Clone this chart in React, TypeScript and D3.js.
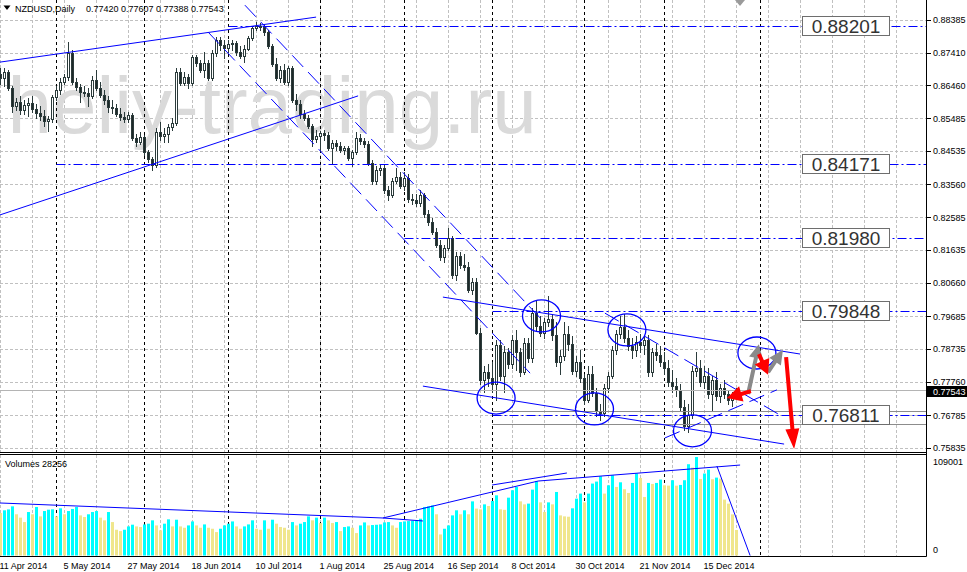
import React from "react";
import * as d3 from "d3";

// ---- NZDUSD daily, 11 Apr 2014 .. late Dec 2014 (one entry per trading day) ----
const openPrices = [
  0.8680, 0.8668, 0.8686, 0.8639, 0.8586, 0.8598, 0.8575, 0.8589, 0.8595, 0.8578,
  0.8566, 0.8557, 0.8542, 0.8548, 0.8613, 0.8633, 0.8657, 0.8671, 0.8742, 0.8657,
  0.8642, 0.8627, 0.8625, 0.8616, 0.8663, 0.8639, 0.8619, 0.8604, 0.8583, 0.8580,
  0.8563, 0.8554, 0.8548, 0.8560, 0.8493, 0.8481, 0.8496, 0.8451, 0.8431, 0.8413,
  0.8510, 0.8498, 0.8504, 0.8525, 0.8537, 0.8686, 0.8654, 0.8671, 0.8654, 0.8730,
  0.8712, 0.8692, 0.8712, 0.8668, 0.8742, 0.8780, 0.8765, 0.8756, 0.8768, 0.8771,
  0.8745, 0.8733, 0.8754, 0.8786, 0.8815, 0.8821, 0.8818, 0.8803, 0.8762, 0.8709,
  0.8668, 0.8692, 0.8657, 0.8698, 0.8604, 0.8592, 0.8563, 0.8551, 0.8528, 0.8490,
  0.8498, 0.8507, 0.8501, 0.8463, 0.8478, 0.8469, 0.8457, 0.8463, 0.8434, 0.8451,
  0.8493, 0.8484, 0.8475, 0.8419, 0.8366, 0.8399, 0.8405, 0.8340, 0.8325, 0.8366,
  0.8378, 0.8352, 0.8375, 0.8314, 0.8311, 0.8302, 0.8325, 0.8270, 0.8246, 0.8217,
  0.8179, 0.8144, 0.8170, 0.8199, 0.8091, 0.8146, 0.8120, 0.8114, 0.8047, 0.8070,
  0.7921, 0.7783, 0.7806, 0.7789, 0.7771, 0.7886, 0.7795, 0.7865, 0.7830, 0.7900,
  0.7865, 0.7806, 0.7891, 0.7847, 0.7979, 0.7941, 0.7921, 0.7953, 0.7962, 0.7915,
  0.7836, 0.7853, 0.7918, 0.7888, 0.7809, 0.7836, 0.7789, 0.7724, 0.7801, 0.7745,
  0.7692, 0.7686, 0.7760, 0.7795, 0.7871, 0.7918, 0.7938, 0.7906, 0.7883, 0.7871,
  0.7894, 0.7886, 0.7900, 0.7806, 0.7865, 0.7856, 0.7836, 0.7818, 0.7777, 0.7765,
  0.7754, 0.7704, 0.7648, 0.7680, 0.7809, 0.7818, 0.7777, 0.7795, 0.7742, 0.7783,
  0.7736, 0.7760, 0.7742, 0.7724, 0.77420,
];
const highPrices = [
  0.8698, 0.8698, 0.8692, 0.8645, 0.8610, 0.8616, 0.8604, 0.8610, 0.8616, 0.8592,
  0.8586, 0.8575, 0.8557, 0.8619, 0.8645, 0.8668, 0.8680, 0.8774, 0.8751, 0.8668,
  0.8651, 0.8645, 0.8639, 0.8674, 0.8692, 0.8657, 0.8633, 0.8616, 0.8604, 0.8592,
  0.8580, 0.8569, 0.8569, 0.8566, 0.8504, 0.8510, 0.8501, 0.8457, 0.8437, 0.8522,
  0.8539, 0.8522, 0.8534, 0.8551, 0.8698, 0.8698, 0.8686, 0.8680, 0.8736, 0.8736,
  0.8721, 0.8745, 0.8721, 0.8751, 0.8789, 0.8789, 0.8780, 0.8780, 0.8780, 0.8777,
  0.8762, 0.8765, 0.8792, 0.8821, 0.8833, 0.8830, 0.8827, 0.8809, 0.8768, 0.8727,
  0.8704, 0.8709, 0.8704, 0.8704, 0.8622, 0.8604, 0.8575, 0.8560, 0.8534, 0.8516,
  0.8513, 0.8516, 0.8510, 0.8487, 0.8487, 0.8481, 0.8469, 0.8469, 0.8457, 0.8510,
  0.8504, 0.8493, 0.8484, 0.8428, 0.8410, 0.8416, 0.8413, 0.8352, 0.8375, 0.8405,
  0.8393, 0.8393, 0.8387, 0.8328, 0.8328, 0.8340, 0.8331, 0.8281, 0.8258, 0.8229,
  0.8193, 0.8179, 0.8229, 0.8205, 0.8158, 0.8158, 0.8152, 0.8129, 0.8082, 0.8082,
  0.7935, 0.7824, 0.7830, 0.7836, 0.7900, 0.7900, 0.7883, 0.7877, 0.7915, 0.7930,
  0.7877, 0.7906, 0.7906, 0.7994, 0.8018, 0.7971, 0.7965, 0.8029, 0.7976, 0.7953,
  0.7871, 0.7953, 0.7941, 0.7912, 0.7853, 0.7871, 0.7801, 0.7824, 0.7824, 0.7760,
  0.7713, 0.7771, 0.7806, 0.7883, 0.7930, 0.7971, 0.7976, 0.7930, 0.7906, 0.7912,
  0.7918, 0.7912, 0.7915, 0.7877, 0.7888, 0.7883, 0.7865, 0.7842, 0.7812, 0.7789,
  0.7771, 0.7724, 0.7713, 0.7824, 0.7865, 0.7842, 0.7824, 0.7818, 0.7795, 0.7806,
  0.7771, 0.7783, 0.7754, 0.7748, 0.77607,
];
const lowPrices = [
  0.8651, 0.8645, 0.8633, 0.8569, 0.8575, 0.8563, 0.8563, 0.8557, 0.8569, 0.8551,
  0.8545, 0.8528, 0.8513, 0.8539, 0.8604, 0.8622, 0.8651, 0.8663, 0.8651, 0.8633,
  0.8598, 0.8616, 0.8586, 0.8610, 0.8633, 0.8613, 0.8592, 0.8569, 0.8566, 0.8557,
  0.8545, 0.8539, 0.8539, 0.8487, 0.8469, 0.8475, 0.8443, 0.8422, 0.8399, 0.8407,
  0.8487, 0.8481, 0.8481, 0.8516, 0.8531, 0.8648, 0.8648, 0.8639, 0.8648, 0.8704,
  0.8686, 0.8671, 0.8663, 0.8663, 0.8733, 0.8751, 0.8727, 0.8745, 0.8751, 0.8736,
  0.8727, 0.8715, 0.8751, 0.8780, 0.8809, 0.8809, 0.8795, 0.8756, 0.8704, 0.8663,
  0.8657, 0.8651, 0.8648, 0.8598, 0.8575, 0.8551, 0.8545, 0.8522, 0.8469, 0.8481,
  0.8457, 0.8487, 0.8457, 0.8419, 0.8457, 0.8451, 0.8446, 0.8428, 0.8410, 0.8446,
  0.8475, 0.8466, 0.8413, 0.8358, 0.8358, 0.8384, 0.8331, 0.8311, 0.8319, 0.8361,
  0.8346, 0.8340, 0.8305, 0.8299, 0.8293, 0.8293, 0.8261, 0.8237, 0.8211, 0.8173,
  0.8135, 0.8129, 0.8164, 0.8082, 0.8076, 0.8111, 0.8106, 0.8041, 0.8035, 0.7918,
  0.7771, 0.7748, 0.7765, 0.7748, 0.7724, 0.7783, 0.7748, 0.7818, 0.7818, 0.7812,
  0.7795, 0.7801, 0.7836, 0.7836, 0.7930, 0.7912, 0.7906, 0.7941, 0.7900, 0.7824,
  0.7801, 0.7842, 0.7871, 0.7801, 0.7795, 0.7777, 0.7713, 0.7718, 0.7736, 0.7677,
  0.7666, 0.7677, 0.7748, 0.7789, 0.7859, 0.7906, 0.7894, 0.7871, 0.7847, 0.7853,
  0.7865, 0.7859, 0.7795, 0.7795, 0.7842, 0.7824, 0.7801, 0.7765, 0.7748, 0.7736,
  0.7695, 0.7636, 0.7631, 0.7672, 0.7795, 0.7765, 0.7760, 0.7730, 0.7695, 0.7724,
  0.7718, 0.7730, 0.7713, 0.7707, 0.77388,
];
const closePrices = [
  0.8668, 0.8686, 0.8639, 0.8586, 0.8598, 0.8575, 0.8589, 0.8595, 0.8578, 0.8566,
  0.8557, 0.8542, 0.8548, 0.8613, 0.8633, 0.8657, 0.8671, 0.8742, 0.8657, 0.8642,
  0.8627, 0.8625, 0.8616, 0.8663, 0.8639, 0.8619, 0.8604, 0.8583, 0.8580, 0.8563,
  0.8554, 0.8548, 0.8560, 0.8493, 0.8481, 0.8496, 0.8451, 0.8431, 0.8413, 0.8510,
  0.8498, 0.8504, 0.8525, 0.8537, 0.8686, 0.8654, 0.8671, 0.8654, 0.8730, 0.8712,
  0.8692, 0.8712, 0.8668, 0.8742, 0.8780, 0.8765, 0.8756, 0.8768, 0.8771, 0.8745,
  0.8733, 0.8754, 0.8786, 0.8815, 0.8821, 0.8818, 0.8803, 0.8762, 0.8709, 0.8668,
  0.8692, 0.8657, 0.8698, 0.8604, 0.8592, 0.8563, 0.8551, 0.8528, 0.8490, 0.8498,
  0.8507, 0.8501, 0.8463, 0.8478, 0.8469, 0.8457, 0.8463, 0.8434, 0.8451, 0.8493,
  0.8484, 0.8475, 0.8419, 0.8366, 0.8399, 0.8405, 0.8340, 0.8325, 0.8366, 0.8378,
  0.8352, 0.8375, 0.8314, 0.8311, 0.8302, 0.8325, 0.8270, 0.8246, 0.8217, 0.8179,
  0.8144, 0.8170, 0.8199, 0.8091, 0.8146, 0.8120, 0.8114, 0.8047, 0.8070, 0.7921,
  0.7783, 0.7806, 0.7789, 0.7771, 0.7886, 0.7795, 0.7865, 0.7830, 0.7900, 0.7865,
  0.7806, 0.7891, 0.7847, 0.7979, 0.7941, 0.7921, 0.7953, 0.7962, 0.7915, 0.7836,
  0.7853, 0.7918, 0.7888, 0.7809, 0.7836, 0.7789, 0.7724, 0.7801, 0.7745, 0.7692,
  0.7686, 0.7760, 0.7795, 0.7871, 0.7918, 0.7938, 0.7906, 0.7883, 0.7871, 0.7894,
  0.7886, 0.7900, 0.7806, 0.7865, 0.7856, 0.7836, 0.7818, 0.7777, 0.7765, 0.7754,
  0.7704, 0.7648, 0.7680, 0.7809, 0.7818, 0.7777, 0.7795, 0.7742, 0.7783, 0.7736,
  0.7760, 0.7742, 0.7724, 0.7742, 0.77543,
];
const volumes = [
  47000, 50000, 51000, 54400, 45600, 41900, 37000, 48100, 45600, 53700,
  43300, 49200, 50700, 51100, 43300, 52200, 45600, 49200, 51500, 53700,
  44400, 42600, 45600, 48100, 49200, 41900, 38900, 48100, 37000, 28500,
  27000, 28500, 32200, 34100, 32200, 31500, 34400, 35200, 38900, 33300,
  27800, 35200, 40000, 32200, 39600, 32200, 30700, 33300, 37700, 33300,
  30700, 34400, 30700, 29600, 25900, 29600, 33300, 35200, 37700, 32200,
  29600, 32200, 34400, 38900, 29600, 28500, 38900, 29600, 39600, 35200,
  31500, 30700, 28500, 37000, 33300, 35200, 37000, 43300, 38900, 41900,
  35900, 41900, 38900, 35900, 37000, 27000, 31500, 32200, 30700, 24800,
  33300, 36600, 33300, 33700, 34000, 34400, 36600, 37000, 33300, 30700,
  37000, 37700, 38100, 38500, 38900, 40700, 53700, 54400, 55500, 45600,
  23300, 29600, 33300, 44400, 50000, 45600, 50000, 45600, 59900, 51900,
  51000, 56600, 54800, 60300, 66600, 51100, 50500, 64000, 72200, 75900,
  59900, 56600, 57400, 72900, 82100, 58800, 48100, 58800, 56600, 70300,
  44400, 43300, 42900, 52200, 62900, 68500, 58800, 68500, 79600, 81800,
  87700, 68500, 77700, 88800, 75900, 81000, 73300, 69200, 80300, 90700,
  85800, 64800, 80300, 79200, 80300, 84000, 77700, 77300, 83300, 77300,
  78100, 83300, 101000, 97300, 109001, 84700, 90700, 95100, 84400, 86200,
  85100, 61800, 57400, 45500, 28256,
];

// ---- axes ----
const priceTicks = [0.88385, 0.8741, 0.8646, 0.85485, 0.84535, 0.8356, 0.82585, 0.81635, 0.8066, 0.79685, 0.78735, 0.7776, 0.76785, 0.75835];
const priceTickLabels = ["0.88385", "0.87410", "0.86460", "0.85485", "0.84535", "0.83560", "0.82585", "0.81635", "0.80660", "0.79685", "0.78735", "0.77760", "0.76785", "0.75835"];
const dateLabels = ["11 Apr 2014", "5 May 2014", "27 May 2014", "18 Jun 2014", "10 Jul 2014", "1 Aug 2014", "25 Aug 2014", "16 Sep 2014", "8 Oct 2014", "30 Oct 2014", "21 Nov 2014", "15 Dec 2014"];
const dateLabelIdx = [0, 16, 32, 48, 64, 80, 96, 112, 128, 144, 160, 176];
const monthSeparatorIdx = [14, 36, 57, 80, 101, 123, 146, 166, 190];
const volumeMax = 109001;

// ---- drawn objects (bar index, price) ----
const levelPrices = [0.88201, 0.84171, 0.8198, 0.79848, 0.76811];
const levelLabels = ["0.88201", "0.84171", "0.81980", "0.79848", "0.76811"];
const levelStartIdx = [57, 14, 101, 123, 123];
const grayLevelPrices = [0.7692, 0.7654];
const grayLevelStartIdx = [123, 123];
const solidTrendLines = [
  [-0.125, 0.8715, 78.9, 0.8847],
  [-0.125, 0.8267, 89.4, 0.8616],
  [110.6, 0.8026, 199.9, 0.7859],
  [105.6, 0.7765, 195.9, 0.7595],
];
const dashedTrendLines = [
  [61.1, 0.8882, 134.9, 0.7965],
  [51.9, 0.8803, 132.4, 0.7803],
  [151.1, 0.7979, 194.9, 0.768],
  [166.1, 0.7613, 194.1, 0.7754],
];
const ellipseCenters = [
  [135.25, 0.7971],
  [156.6, 0.793],
  [123.9, 0.773],
  [148.5, 0.7698],
  [173, 0.7634],
  [189.1, 0.7862],
];
const arrowsRed = [
  [187.6, 0.7750, 181.6, 0.773],
  [189.6, 0.7859, 191.9, 0.7798],
  [196.4, 0.785, 198.4, 0.7581],
];
const arrowsGray = [
  [186.9, 0.7742, 189.6, 0.7888],
  [191.9, 0.7806, 195.6, 0.7871],
];
const volumeTrendLines = [
  [-0.125, 58100, 95.6, 41500],
  [95.6, 41500, 134.4, 82400],
  [95.6, 41500, 105.6, 38200],
  [122.9, 78000, 141.6, 91300],
  [134.4, 82400, 184.9, 100100],
  [179.1, 99000, 187.4, 0],
];

const FONT = "'Liberation Sans', Arial, Helvetica, sans-serif";
const BLUE = "#0000ff";
const CANDLE = "#2b3b3b";
const BEAR_FILL = "#1e2828";

function arrowPath(x1: number, y1: number, x2: number, y2: number, w: number, L: number, hw: number) {
  const dx = x2 - x1, dy = y2 - y1;
  const len = Math.hypot(dx, dy);
  const ux = dx / len, uy = dy / len;
  const nx = -uy, ny = ux;
  const bx = x2 - ux * L, by = y2 - uy * L;
  const pts = [
    [x1 + nx * w / 2, y1 + ny * w / 2],
    [bx + nx * w / 2, by + ny * w / 2],
    [bx + nx * hw, by + ny * hw],
    [x2, y2],
    [bx - nx * hw, by - ny * hw],
    [bx - nx * w / 2, by - ny * w / 2],
    [x1 - nx * w / 2, y1 - ny * w / 2],
  ];
  return "M" + pts.map((p) => p[0].toFixed(1) + "," + p[1].toFixed(1)).join("L") + "Z";
}

export default function App() {
  const W = 967, H = 572;
  const PLOT_R = 926;
  const MAIN_B = 452;
  const VOL_T = 455, VOL_B = 556;

  const x = d3.scaleLinear().domain([0, 1]).range([0.5, 4.5]);
  const y = d3.scaleLinear().domain([0.75835, 0.88385]).range([448, 20]);
  const v = d3.scaleLinear().domain([0, volumeMax]).range([555.5, 457]);

  const gridXs = d3.range(0, 232, 8).map((i) => x(i)).filter((px) => px < PLOT_R);
  const crisp = (val: number) => Math.round(val) + 0.5;

  const lastClose = closePrices[closePrices.length - 1];
  const lastY = Math.round(y(lastClose));

  return (
    <div style={{ position: "absolute", left: 0, top: 0 }}>
      <svg width={W} height={H} viewBox={`0 0 ${W} ${H}`} style={{ display: "block", fontFamily: FONT }}>
        <defs>
          <clipPath id="clipMain">
            <rect x={0} y={0} width={PLOT_R} height={MAIN_B} />
          </clipPath>
          <clipPath id="clipVol">
            <rect x={0} y={VOL_T} width={PLOT_R} height={VOL_B - VOL_T} />
          </clipPath>
        </defs>
        <rect x={0} y={0} width={W} height={H} fill="#ffffff" />

        {/* grid */}
        <g stroke="#c0c0c0" strokeWidth={1} strokeDasharray="3,2">
          {priceTicks.map((t, k) => (
            <line key={"gh" + k} x1={0} x2={PLOT_R} y1={crisp(y(t) - 0.5)} y2={crisp(y(t) - 0.5)} />
          ))}
          {gridXs.map((gx, k) => (
            <line key={"gv" + k} x1={gx} x2={gx} y1={0} y2={VOL_B} />
          ))}
        </g>

        {/* watermark */}
        <text x={7.5} y={133} fontSize={80} fill="#dadada" fontFamily={FONT}>heliy-trading.ru</text>

        {/* month separators */}
        <g stroke="#000" strokeWidth={1} strokeDasharray="3,3">
          {monthSeparatorIdx.map((i, k) => (
            <line key={"sep" + k} x1={x(i)} x2={x(i)} y1={0} y2={VOL_B} />
          ))}
        </g>

        {/* candles */}
        <g clipPath="url(#clipMain)">
          {closePrices.map((c, i) => {
            const o = openPrices[i];
            const cx = x(i);
            const top = Math.round(y(Math.max(o, c)));
            const bot = Math.round(y(Math.min(o, c)));
            const bull = c >= o;
            return (
              <g key={"c" + i}>
                <line x1={cx} x2={cx} y1={Math.round(y(highPrices[i]))} y2={Math.round(y(lowPrices[i])) + 1} stroke={CANDLE} strokeWidth={1} />
                {bot - top < 1 ? (
                  <line x1={cx - 1.5} x2={cx + 1.5} y1={top + 0.5} y2={top + 0.5} stroke={CANDLE} strokeWidth={1} />
                ) : (
                  <rect x={cx - 1} y={top + 0.5} width={2} height={bot - top} fill={bull ? "#ffffff" : BEAR_FILL} stroke={CANDLE} strokeWidth={1} />
                )}
              </g>
            );
          })}
        </g>

        {/* volumes */}
        <g clipPath="url(#clipVol)">
          {volumes.map((vol, i) => {
            const up = i > 0 && vol > volumes[i - 1];
            const top = v(vol);
            return (
              <rect key={"v" + i} x={x(i) - 1.5} y={top} width={3} height={555.5 - top} fill={up ? "#00ffff" : "#f0e68c"} />
            );
          })}
          {volumeTrendLines.map((l, k) => (
            <line key={"vl" + k} x1={x(l[0])} y1={v(l[1])} x2={x(l[2])} y2={v(l[3])} stroke={BLUE} strokeWidth={1} />
          ))}
        </g>

        {/* chart objects */}
        <g clipPath="url(#clipMain)">
          {/* current bid line */}
          <line x1={0} x2={PLOT_R} y1={lastY + 0.5} y2={lastY + 0.5} stroke="#b4b4b4" strokeWidth={1} />
          {grayLevelPrices.map((p, k) => (
            <line key={"gl" + k} x1={x(grayLevelStartIdx[k])} x2={PLOT_R} y1={crisp(y(p))} y2={crisp(y(p))} stroke="#8c8c8c" strokeWidth={1} />
          ))}
          {levelPrices.map((p, k) => (
            <line key={"lv" + k} x1={x(levelStartIdx[k])} x2={PLOT_R} y1={crisp(y(p))} y2={crisp(y(p))} stroke={BLUE} strokeWidth={1} strokeDasharray="9,3,2,3" />
          ))}
          {solidTrendLines.map((l, k) => (
            <line key={"tl" + k} x1={x(l[0])} y1={y(l[1])} x2={x(l[2])} y2={y(l[3])} stroke={BLUE} strokeWidth={1} />
          ))}
          {dashedTrendLines.map((l, k) => (
            <line key={"dl" + k} x1={x(l[0])} y1={y(l[1])} x2={x(l[2])} y2={y(l[3])} stroke={BLUE} strokeWidth={1} strokeDasharray="16,7" />
          ))}
          {ellipseCenters.map((e, k) => (
            <ellipse key={"el" + k} cx={x(e[0])} cy={y(e[1])} rx={19} ry={16} fill="none" stroke={BLUE} strokeWidth={1.3} />
          ))}
          {arrowsGray.map((a, k) => (
            <path key={"ag" + k} d={arrowPath(x(a[0]), y(a[1]), x(a[2]), y(a[3]), 4, 14, 7)} fill="#8a8a8a" />
          ))}
          {arrowsRed.map((a, k) => (
            <path key={"ar" + k} d={arrowPath(x(a[0]), y(a[1]), x(a[2]), y(a[3]), 4, k === 2 ? 20 : 15, k === 2 ? 7 : 8)} fill="#ff0000" />
          ))}
          {/* chart shift marker */}
          <path d="M735,0 L745,0 L740,6 Z" fill="#9a9a9a" />
        </g>

        {/* price tags for levels */}
        {levelPrices.map((p, k) => {
          const cy = y(p);
          return (
            <g key={"tag" + k}>
              <rect x={802.5} y={Math.round(cy) - 9.5} width={87} height={19} fill="#ffffff" stroke="#6e6e6e" strokeWidth={1} />
              <text x={846} y={Math.round(cy) + 6.5} fontSize={19} fill="#333333" textAnchor="middle">{levelLabels[k]}</text>
            </g>
          );
        })}

        {/* frames */}
        <g stroke="#000" strokeWidth={1} fill="none">
          <line x1={PLOT_R + 0.5} x2={PLOT_R + 0.5} y1={0} y2={VOL_B + 0.5} />
          <line x1={0} x2={PLOT_R + 0.5} y1={MAIN_B + 0.5} y2={MAIN_B + 0.5} />
          <line x1={0} x2={PLOT_R + 0.5} y1={VOL_T - 0.5} y2={VOL_T - 0.5} />
          <line x1={0} x2={PLOT_R + 0.5} y1={VOL_B + 0.5} y2={VOL_B + 0.5} />
        </g>

        {/* price axis */}
        {priceTicks.map((t, k) => (
          <g key={"pt" + k}>
            <line x1={927} x2={931} y1={crisp(y(t) - 0.5)} y2={crisp(y(t) - 0.5)} stroke="#000" />
            <text x={933} y={y(t) + 3} fontSize={9} fill="#000">{priceTickLabels[k]}</text>
          </g>
        ))}
        <rect x={927} y={lastY - 4} width={40} height={11} fill="#000" />
        <text x={933} y={lastY + 5} fontSize={9} fill="#fff">{lastClose.toFixed(5)}</text>

        {/* volume axis */}
        <text x={933} y={465} fontSize={9} fill="#000">{String(volumeMax)}</text>
        <text x={933} y={552.5} fontSize={9} fill="#000">0</text>

        {/* date axis */}
        {dateLabelIdx.map((i, k) => (
          <text key={"dt" + k} x={x(i) - 1} y={568.5} fontSize={9} fill="#000">{dateLabels[k]}</text>
        ))}

        {/* header */}
        <path d="M3.5,5.5 L10.5,5.5 L7,10 Z" fill="#000" />
        <text x={15} y={11.5} fontSize={9} fill="#000">NZDUSD,Daily</text>
        <text x={86} y={11.5} fontSize={9} fill="#000">
          {[openPrices, highPrices, lowPrices, closePrices].map((a) => a[a.length - 1].toFixed(5)).join(" ")}
        </text>
        <text x={5} y={467} fontSize={9} fill="#000">{"Volumes " + volumes[volumes.length - 1]}</text>
      </svg>
    </div>
  );
}
